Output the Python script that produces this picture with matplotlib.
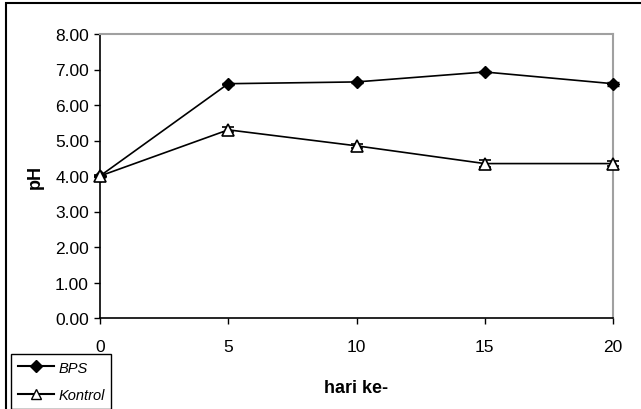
import matplotlib.pyplot as plt
from matplotlib.patches import Rectangle
from matplotlib.lines import Line2D

plt.rcParams['font.family'] = ['Liberation Sans', 'DejaVu Sans']

hari = [0, 5, 10, 15, 20]
bps = [4.00, 6.60, 6.65, 6.93, 6.60]
bps_err = [0.02, 0.03, 0.03, 0.04, 0.06]
kontrol = [4.00, 5.30, 4.85, 4.35, 4.35]
kontrol_err = [0.02, 0.07, 0.06, 0.11, 0.06]
yticks = [0, 1, 2, 3, 4, 5, 6, 7, 8]
xticks = [0, 5, 10, 15, 20]

fig = plt.figure(figsize=(6.41, 4.10), dpi=100)
ax = fig.add_axes([100/641, 1-319/410, 513/641, 284/410])

ax.errorbar(hari, bps, yerr=bps_err, color='k', linewidth=1.2,
            marker='D', markersize=6, markerfacecolor='k',
            capsize=4, elinewidth=1, clip_on=False, zorder=3)
ax.errorbar(hari, kontrol, yerr=kontrol_err, color='k', linewidth=1.2,
            marker='^', markersize=8, markerfacecolor='w', markeredgewidth=1.2,
            capsize=4, elinewidth=1, clip_on=False, zorder=3)

ax.set_xlim(0, 20)
ax.set_ylim(0, 8)
ax.set_xticks(xticks)
ax.set_yticks(yticks)
ax.set_yticklabels(['%.2f' % v for v in yticks])
ax.tick_params(direction='out', length=4, width=1, labelsize=12.5, pad=4)
ax.tick_params(axis='x', pad=11)

for s in ['left', 'bottom']:
    ax.spines[s].set_color('k')
    ax.spines[s].set_linewidth(1.2)
for s in ['top', 'right']:
    ax.spines[s].set_color('#a0a0a0')
    ax.spines[s].set_linewidth(1.5)

ax.set_xlabel('hari ke-', fontsize=13, fontweight='bold', labelpad=18)
ax.set_ylabel('pH', fontsize=13, fontweight='bold', labelpad=8)

# outer chart border
fig.patches.append(Rectangle((6/641, -0.1), 1.2, 1 - 4/410 + 0.1,
                             transform=fig.transFigure, fill=False,
                             edgecolor='k', linewidth=1.5))

handles = [
    Line2D([], [], color='k', marker='D', markersize=6, markerfacecolor='k'),
    Line2D([], [], color='k', marker='^', markersize=7, markerfacecolor='w'),
]
leg = fig.legend(handles, ['BPS', 'Kontrol'], loc='upper left',
                 bbox_to_anchor=(11/641, 1-355/410), frameon=True,
                 fancybox=False, edgecolor='k', framealpha=1,
                 prop={'style': 'italic', 'size': 10.5}, handlelength=2.5,
                 labelspacing=0.95, borderpad=0.45, handletextpad=0.3,
                 borderaxespad=0)
leg.get_frame().set_linewidth(1)

fig.savefig('out.png', dpi=100)
